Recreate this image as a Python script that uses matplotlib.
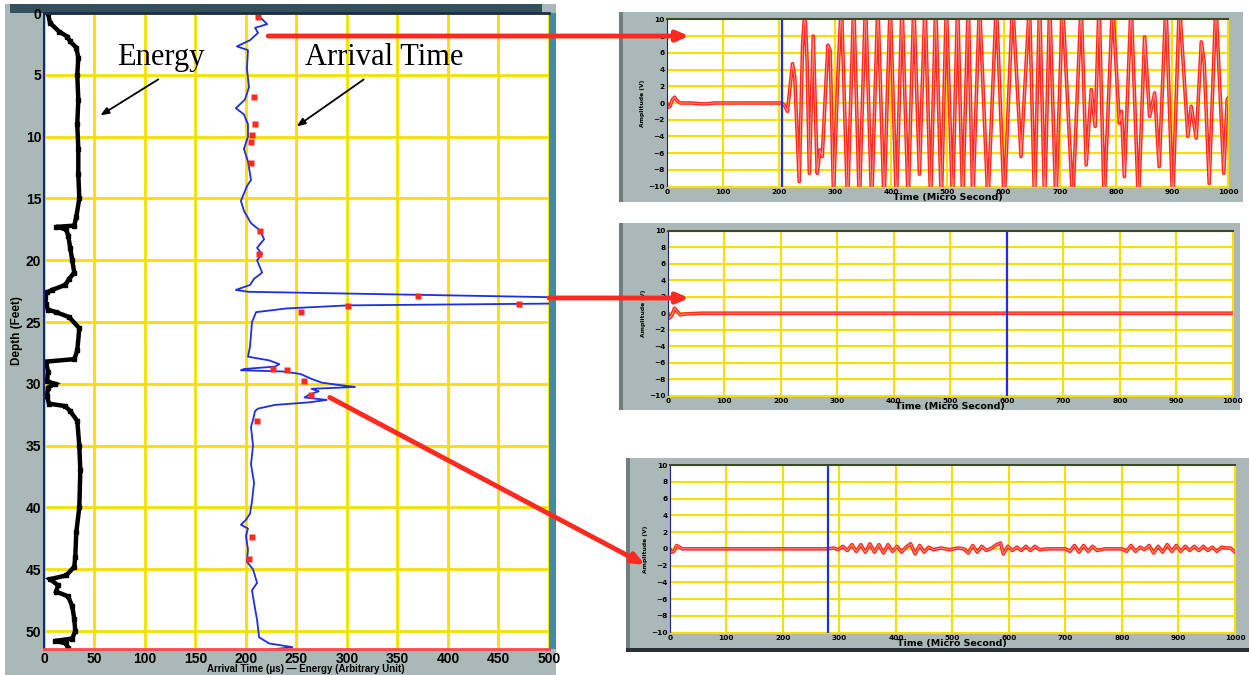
import numpy as np
import matplotlib
matplotlib.use("Agg")
import matplotlib.pyplot as plt
from matplotlib.patches import Rectangle, ConnectionPatch
from matplotlib.colors import LinearSegmentedColormap

# ---- data ----
# energy log (depth ft, energy arbitrary units)
energy_depth = [0, 0.8, 1.5, 1.9, 2.3, 2.8, 3.6, 5, 7, 9, 11, 13, 15,
                16.5, 17.2, 17.3, 17.5, 18, 19, 20, 21, 21.5, 22,
                22.4, 22.6, 23, 23.5, 24.0, 24.2, 24.6, 25.5,
                27.3, 28.0, 28.2, 29, 29.8, 30.0, 30.3, 31, 31.6, 31.8, 32.2, 33,
                35, 37, 40, 42, 44, 44.8, 45.5, 45.8, 46.3, 46.8, 47.2, 48, 49, 50,
                50.6, 50.8, 51.0, 51.4]
energy = [4, 6, 15, 23, 26, 32, 34, 33, 34, 33, 34, 34, 35,
          32, 30, 12, 22, 24, 26, 28, 30, 25, 21,
          8, 3, 1, 2, 4, 12, 25, 35,
          33, 30, 2, 4, 3, 11, 4, 3, 5, 21, 26, 33,
          35, 36, 35, 32, 31, 30, 22, 6, 14, 12, 24, 28, 30, 31,
          28, 11, 22, 24]

# arrival time profile (depth ft, arrival us)
arrival_profile = [
    (0, 209), (0.5, 216), (0.9, 221), (1.2, 209), (1.6, 212), (2.2, 204), (2.7, 191),
    (3.0, 202), (4.5, 201), (6, 203), (7.0, 199), (7.7, 190), (8.2, 198), (9, 202),
    (10, 202), (11, 198), (12, 202), (13.5, 205), (14, 201), (15.2, 195), (16, 198),
    (17, 205), (17.6, 214), (18.3, 218), (19, 211), (19.5, 216), (20, 211), (21, 216),
    (21.5, 208), (22, 204), (22.4, 190), (22.55, 202), (23.0, 510), (23.5, 510),
    (23.65, 301), (23.9, 240), (24.2, 210), (25, 206), (26, 205), (27, 204), (27.8, 202),
    (28.1, 223), (28.4, 233), (28.6, 229), (28.8, 198), (28.9, 195), (29.0, 237),
    (29.2, 254), (29.6, 265), (29.9, 275), (30.1, 293), (30.25, 308), (30.4, 265),
    (30.6, 272), (30.9, 262), (31.1, 258), (31.3, 280), (31.5, 262), (31.7, 229),
    (32.0, 212), (32.2, 209), (32.9, 207), (33.5, 205), (35, 207), (36.5, 205),
    (38, 208), (39.5, 206), (40.5, 204), (41.0, 200), (41.4, 195), (41.7, 202),
    (42.3, 200), (43.4, 202), (44.4, 201), (45, 207), (46.1, 211), (46.7, 206),
    (47.7, 208), (49.1, 211), (50.5, 213), (51.0, 223), (51.3, 246), (51.6, 213),
]

# picked arrivals (arrival us, depth ft)
picks = [(212, 0.3), (208, 6.8), (209, 9.0), (206, 9.9), (205, 10.4), (205, 12.1),
         (214, 17.6), (213, 19.5), (370, 22.9), (470, 23.5), (301, 23.7), (255, 24.2),
         (227, 28.8), (241, 28.9), (257, 29.8), (264, 30.9), (211, 33.0), (206, 42.4),
         (203, 44.2)]

# waveforms (time us, amplitude V), extrema
wave_top = [
    (0, 0), (3, -0.5), (6, -0.4), (10, 0.4), (14, 0.7), (18, 0.3), (24, 0.0), (45, 0.0),
    (60, -0.1), (72, -0.1), (85, 0.0), (205, 0.0),
    (210, -0.3), (215, -1.0), (219, 1.5), (224, 4.7), (228, 3.1), (236, -9.4), (242, 7.0),
    (246, 11.0), (250, 5.0), (254, -8.4), (261, 8.0), (268, -8.4), (273, -5.6), (277, -6.4),
    (287, 6.9), (291, 6.3), (297, -11.0), (304, 2.0), (311, 12.0),
    (322, -12), (333, 12), (343, -12), (354, 12), (365, -12), (376, 12), (387, -12),
    (398, 12), (409, -12), (419, 12), (430, -12), (440, 12), (450, -8.5), (460, 12),
    (470, -12), (479, 12), (489, -12), (498, 12), (509, -12), (518, 12), (527, -12),
    (537, 12), (545, -12), (557, 12), (572, -12), (587, 12), (601, -12), (616, 12),
    (631, -6.4), (646, 12), (655, -12), (664, 12), (673, -12), (682, 12), (693, -12),
    (705, 12), (723, -12), (738, 12), (747, -7.4), (756, 1.6), (763, -2.8), (770, 12),
    (779, -12), (794, 12), (806, -2.4), (810, -1.0), (815, -8.8), (827, 12), (840, -12),
    (851, 7.9), (860, -1.6), (869, 1.2), (877, -7.6), (889, 12), (901, -12), (913, 12),
    (928, -4.0), (934, -0.4), (943, -4.2), (952, 7.3), (957, 5.0), (966, -9.6), (978, 12),
    (992, -8.4), (998, 0.4), (1000, 0.6),
]
wave_mid = [(0, 0), (3, -0.6), (7, -0.3), (12, 0.6), (16, 0.3), (22, -0.2), (30, -0.1),
            (60, 0.0), (1000, 0.0)]
wave_bot = [
    (0, 0), (3, -0.4), (7, -0.3), (12, 0.4), (17, 0.2), (22, 0.0), (280, 0.0),
    (290, 0.1), (298, -0.1), (306, 0.3), (314, -0.2), (322, 0.5), (330, -0.3), (338, 0.5),
    (346, -0.4), (354, 0.6), (362, -0.4), (370, 0.5), (378, -0.5), (386, 0.5), (394, -0.3),
    (402, 0.3), (410, -0.4), (418, 0.2), (426, 0.6), (434, -0.6), (442, 0.4), (450, -0.4),
    (458, 0.2), (466, -0.1), (480, 0.1), (495, -0.1), (510, 0.1), (520, 0.0), (528, -0.5),
    (536, 0.4), (544, -0.4), (552, 0.3), (560, -0.2), (570, 0.1), (578, 0.5), (585, 0.7),
    (590, -0.6), (598, 0.3), (606, -0.2), (614, 0.2), (622, -0.2), (630, 0.3), (638, -0.2),
    (646, 0.3), (654, -0.1), (670, 0.0), (700, 0.0), (708, -0.3), (716, 0.4), (724, -0.4),
    (732, 0.4), (740, -0.3), (748, 0.3), (756, -0.2), (770, 0.0), (800, 0.0), (808, -0.3),
    (816, 0.4), (824, -0.3), (832, 0.2), (840, -0.1), (848, 0.4), (856, -0.5), (864, 0.3),
    (872, -0.4), (880, 0.5), (888, -0.3), (896, 0.4), (904, -0.3), (912, 0.3), (920, -0.2),
    (928, 0.3), (936, -0.2), (944, 0.3), (952, -0.2), (960, 0.2), (968, -0.3), (976, 0.2),
    (984, 0.1), (992, 0.1), (1000, -0.4),
]
cursor_times = [205, 600, 280]

depth_ticks = list(range(0, 51, 5))
time_ticks_left = list(range(0, 501, 50))
wave_xticks = list(range(0, 1001, 100))
wave_yticks = list(range(-10, 11, 2))

YELLOW = "#f5e000"
RED = "#ff2a1f"
BLUE = "#1d2fe0"
FRAME = "#abb8b8"
sans = ["Liberation Sans", "DejaVu Sans"]

fig = plt.figure(figsize=(12.49, 6.75), dpi=100)
fig.patch.set_facecolor("white")

# background frames, drawn in pixel space
bg = fig.add_axes([0, 0, 1, 1], zorder=-10)
bg.set_xlim(0, 1249)
bg.set_ylim(675, 0)
bg.axis("off")
bg.add_patch(Rectangle((5, 4), 551, 671, color=FRAME, lw=0))
grad = LinearSegmentedColormap.from_list("g", ["#7d9394", "#c8d2d2"])
bg.imshow(np.linspace(0, 1, 64)[None, :], extent=(5, 40, 675, 4), cmap=grad, aspect="auto")
bg.add_patch(Rectangle((10, 4), 532, 9, color="#33505d", lw=0))
bg.add_patch(Rectangle((549, 13), 7, 636, color="#3f8ca3", lw=0))
for (x0, y0, w, h) in [(619, 12, 624, 190), (619, 223, 621, 187), (626, 458, 623, 194)]:
    bg.add_patch(Rectangle((x0, y0), w, h, color=FRAME, lw=0))
    bg.add_patch(Rectangle((x0, y0), 4, h, color="#6f7f80", lw=0))
bg.add_patch(Rectangle((626, 648), 623, 4, color="#2a3133", lw=0))

# ---- left: depth log ----
ax = fig.add_axes([0.0352, 0.0385, 0.4043, 0.9422])
ax.set_facecolor("white")
ax.set_xlim(0, 500)
ax.set_ylim(51.45, 0)
ax.set_xticks(time_ticks_left)
ax.set_yticks(depth_ticks)
ax.grid(True, color=YELLOW, lw=2)
ax.set_axisbelow(True)
ax.tick_params(length=0, pad=2, labelsize=10)
for lab in ax.get_xticklabels() + ax.get_yticklabels():
    lab.set_family(sans)
    lab.set_fontweight("bold")
ax.spines["left"].set_color("#1a237e")
ax.spines["left"].set_linewidth(1.5)
ax.spines["top"].set_color("#1d2c44")
ax.spines["top"].set_linewidth(2)
ax.spines["right"].set_visible(False)
ax.spines["bottom"].set_color("#ff4747")
ax.spines["bottom"].set_linewidth(2)

ax.plot(energy, energy_depth, color="black", lw=3.2, marker="s", ms=3.5,
        solid_joinstyle="miter")
arr = np.array(arrival_profile)
ax.plot(arr[:, 1], arr[:, 0], color=BLUE, lw=1.3)
pk = np.array(picks)
ax.plot(pk[:, 0], pk[:, 1], "s", color=RED, ms=5, mec="none")

ax.text(72, 3.6, "Energy", family=["Liberation Serif", "DejaVu Serif"], fontsize=22, va="center")
ax.text(258, 3.6, "Arrival Time", family=["Liberation Serif", "DejaVu Serif"], fontsize=22, va="center")
ax.annotate("", xy=(53.5, 8.4), xytext=(115.5, 5.25),
            arrowprops=dict(arrowstyle="-|>,head_length=0.5,head_width=0.2", color="black", lw=1.3))
ax.annotate("", xy=(248, 9.3), xytext=(318.8, 5.25),
            arrowprops=dict(arrowstyle="-|>,head_length=0.5,head_width=0.2", color="black", lw=1.3))
ax.set_ylabel("Depth (Feet)", family=sans, fontweight="bold", fontsize=8.5, labelpad=2)
fig.text(0.245, 0.001, "Arrival Time (\u03bcs) \u2014 Energy (Arbitrary Unit)", family=sans,
         fontweight="bold", fontsize=7, ha="center", va="bottom")

# ---- right: waveforms ----
positions = [[0.5338, 0.7234, 0.4496, 0.2480],
             [0.5346, 0.4138, 0.4524, 0.2444],
             [0.5363, 0.0627, 0.4525, 0.2484]]
waves = [wave_top, wave_mid, wave_bot]
wave_axes = []
for pos, wave, tc in zip(positions, waves, cursor_times):
    wa = fig.add_axes(pos)
    wa.set_facecolor("white")
    wa.set_xlim(0, 1000)
    wa.set_ylim(-10, 10)
    wa.set_xticks(wave_xticks)
    wa.set_yticks(wave_yticks)
    wa.grid(True, color=YELLOW, lw=1.5)
    wa.set_axisbelow(True)
    wa.tick_params(length=0, pad=1.5, labelsize=5.3)
    for lab in wa.get_xticklabels() + wa.get_yticklabels():
        lab.set_fontweight("bold")
    wa.spines["left"].set_color("#1a237e")
    wa.spines["top"].set_color("#3b4a22")
    wa.spines["top"].set_linewidth(1.5)
    wa.spines["right"].set_color(YELLOW)
    wa.spines["bottom"].set_color(YELLOW)
    w = np.array(wave, dtype=float)
    wa.plot(w[:, 0], w[:, 1], color=RED, lw=2.6, solid_joinstyle="round")
    wa.plot(w[:, 0], w[:, 1], color="#ff9c9c", lw=0.6)
    wa.axvline(tc, color=BLUE, lw=1.6)
    wa.set_xlabel("Time (Micro Second)", fontsize=6.8, fontweight="bold", labelpad=-1)
    wa.set_ylabel("Amplitude (V)", fontsize=4.3, fontweight="bold", labelpad=2)
    wave_axes.append(wa)

# red pointers from the log to each waveform
links = [((222, 1.86), (40, 8.0), wave_axes[0]),
         ((500, 23.05), (38, 1.84), wave_axes[1]),
         ((283, 31.1), (-44, -1.9), wave_axes[2])]
for a, b, target in links:
    con = ConnectionPatch(xyA=a, coordsA=ax.transData, xyB=b, coordsB=target.transData,
                          arrowstyle="-|>,head_length=0.7,head_width=0.3", color=RED,
                          lw=3.5, mutation_scale=10, zorder=20)
    fig.add_artist(con)

fig.savefig("out.png", dpi=100)
